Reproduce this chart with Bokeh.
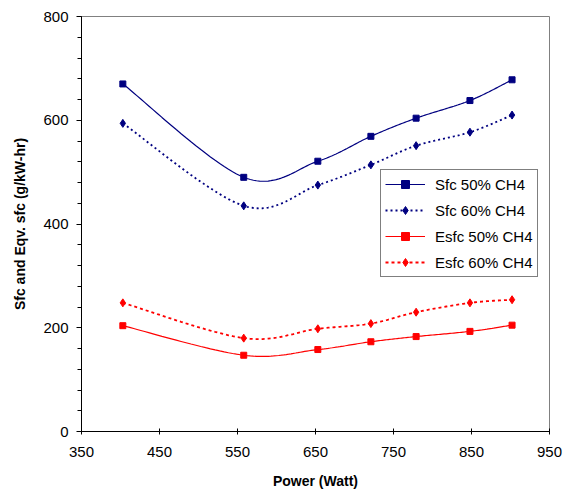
import numpy as np
from bokeh.plotting import figure
from bokeh.models import FixedTicker, SingleIntervalTicker, Range1d, Legend, LegendItem
from bokeh.embed import file_html
from bokeh.resources import INLINE

power = [403, 558, 653, 721, 779, 848, 902]
sfc_50 = [670, 490, 521, 569, 604, 638, 678]
sfc_60 = [594, 435, 475, 514, 551, 577, 610]
esfc_50 = [204, 147, 158, 173, 183, 193, 205]
esfc_60 = [248, 180, 198, 208, 230, 248, 254]
x_ticks = [350, 450, 550, 650, 750, 850, 950]

NAVY = "#000080"
RED = "#FF0000"
FONT = "Liberation Sans"


def smooth(xs, ys, n=30):
    # Bezier smoothing of the polyline through the data points (Excel-style)
    xs = np.asarray(xs, float)
    ys = np.asarray(ys, float)
    outx, outy = [], []
    m = len(xs)
    t = np.linspace(0, 1, n)
    for i in range(m - 1):
        p0 = np.array([xs[max(i - 1, 0)], ys[max(i - 1, 0)]])
        p1 = np.array([xs[i], ys[i]])
        p2 = np.array([xs[i + 1], ys[i + 1]])
        p3 = np.array([xs[min(i + 2, m - 1)], ys[min(i + 2, m - 1)]])
        c1 = p1 + (p2 - p0) / 6.0
        c2 = p2 - (p3 - p1) / 6.0
        for tt in (t if i == 0 else t[1:]):
            b = ((1 - tt) ** 3) * p1 + 3 * ((1 - tt) ** 2) * tt * c1 + 3 * (1 - tt) * tt ** 2 * c2 + tt ** 3 * p2
            outx.append(b[0])
            outy.append(b[1])
    return outx, outy


p = figure(width=572, height=491, output_backend="svg", toolbar_location=None,
           x_range=Range1d(350, 950), y_range=Range1d(0, 800),
           min_border_left=81, min_border_right=23, min_border_top=16, min_border_bottom=59)
p.grid.visible = False
p.outline_line_color = "#808080"
p.outline_line_width = 1
p.background_fill_color = "white"

series = [
    (sfc_50, "Sfc 50% CH4", NAVY, "solid", 1.2, "square", 6),
    (sfc_60, "Sfc 60% CH4", NAVY, "2 3", 1.8, "diamond", 8),
    (esfc_50, "Esfc 50% CH4", RED, "solid", 1.2, "square", 6),
    (esfc_60, "Esfc 60% CH4", RED, "3 3", 1.8, "diamond", 8),
]
items = []
for ys, label, color, dash, lw, marker, size in series:
    sx, sy = smooth(power, ys)
    r1 = p.line(sx, sy, line_color=color, line_width=lw, line_dash=dash)
    r2 = p.scatter(power, ys, marker=marker, size=size, fill_color=color, line_color=color)
    items.append(LegendItem(label=label, renderers=[r1, r2]))

legend = Legend(items=items, location=(299, 154), padding=4, spacing=6,
                label_height=20, glyph_height=20, glyph_width=40, label_standoff=10,
                border_line_color="black", border_line_width=1,
                label_text_font=FONT, label_text_font_size="15px", label_text_color="black",
                background_fill_alpha=1.0, margin=0)
p.add_layout(legend, "center")

xa = p.xaxis[0]
xa.ticker = FixedTicker(ticks=x_ticks)
xa.axis_label = "Power (Watt)"
xa.major_tick_in = 3
xa.major_tick_out = 3
xa.major_label_standoff = 12
xa.axis_label_standoff = 13

ya = p.yaxis[0]
ya.ticker = SingleIntervalTicker(interval=200, num_minor_ticks=5)
ya.axis_label = "Sfc and Eqv. sfc (g/kW-hr)"
ya.major_tick_in = 0
ya.major_tick_out = 5
ya.minor_tick_in = 0
ya.minor_tick_out = 4
ya.major_label_standoff = 8
ya.axis_label_standoff = 12

for ax in (xa, ya):
    ax.axis_line_color = "black"
    ax.major_tick_line_color = "black"
    ax.minor_tick_line_color = "black" if ax is ya else None
    ax.major_label_text_font = FONT
    ax.major_label_text_font_size = "15px"
    ax.major_label_text_color = "black"
    ax.axis_label_text_font = FONT
    ax.axis_label_text_font_size = "14px"
    ax.axis_label_text_font_style = "bold"
    ax.axis_label_text_color = "black"

open("out.html", "w").write(file_html(p, INLINE))
